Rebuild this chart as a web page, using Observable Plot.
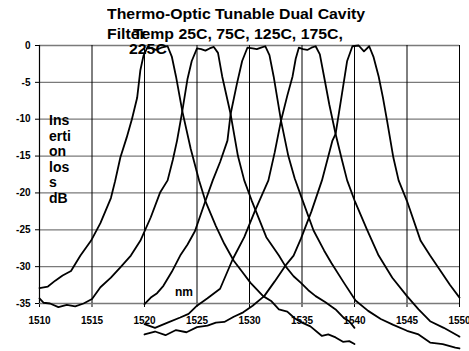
<!DOCTYPE html>
<html>
<head>
<meta charset="utf-8">
<script src="https://cdn.jsdelivr.net/npm/d3@7"></script>
<script src="https://cdn.jsdelivr.net/npm/@observablehq/plot@0.6"></script>
<style>
  html, body { margin: 0; padding: 0; background: #fff; }
  #wrap { position: relative; width: 469px; height: 351px; font-family: "Liberation Sans", Arial, sans-serif; font-weight: bold; color: #000; }
  .t { position: absolute; white-space: nowrap; font-size: 14px; line-height: 14px; transform-origin: 0 0; transform: scaleX(1.13); }
  #ylab { position: absolute; left: 49px; top: 113.1px; font-size: 14px; line-height: 15.5px; width: 24px; }
  #nm { position: absolute; left: 175px; top: 285.5px; font-size: 12px; line-height: 12px; }
</style>
</head>
<body>
<div id="wrap">
  <div id="chart"></div>
  <div class="t" style="left:107px; top:6.7px;">Thermo-Optic Tunable Dual Cavity</div>
  <div class="t" style="left:107px; top:27.4px;">Filter</div>
  <div class="t" style="left:133px; top:27.4px;">Temp 25C, 75C, 125C, 175C,</div>
  <div class="t" style="left:129px; top:42.4px;">225C</div>
  <div id="ylab">Ins<br>erti<br>on<br>los<br>s<br>dB</div>
  <div id="nm">nm</div>
</div>
<script>
// Series names
const temps = ["25C", "75C", "125C", "175C", "225C"];

// 25C curve
const wl25 = [1510, 1510.8, 1511.5, 1512.2, 1513, 1513.9, 1514.9, 1515.8, 1516.8, 1517.2, 1517.7, 1518.3, 1518.8, 1519.3, 1519.6, 1519.9, 1520.3, 1520.7, 1521.1, 1521.6, 1522.2, 1522.6, 1523.0, 1523.6, 1524.4, 1525.2, 1525.8, 1526.8, 1527.6, 1528.5, 1529.3, 1530.1, 1531.3, 1532.1, 1532.8, 1533.6, 1534.3, 1535, 1535.8, 1536.9, 1537.5, 1538.2, 1538.9, 1539.5, 1540];
const db25 = [-32.9, -32.7, -31.9, -31.2, -30.6, -28.5, -26.5, -24.1, -20.7, -18.4, -15.2, -12.5, -10.0, -7.1, -3.4, -1.4, -0.2, -0.4, -0.6, -0.3, -0.1, -1.5, -4.2, -8.9, -14.0, -18.3, -21.1, -24.5, -26.9, -29.2, -30.7, -32.2, -34.0, -34.7, -35.8, -36.1, -37.0, -37.6, -38.1, -39.4, -39.2, -39.6, -40.2, -40.1, -40.5];

// 75C curve
const wl75 = [1510, 1510.4, 1511, 1511.8, 1512.6, 1513.4, 1514.2, 1515, 1515.8, 1516.8, 1517.7, 1518.7, 1519.6, 1520.6, 1521.5, 1522.2, 1522.7, 1523.1, 1523.6, 1524.1, 1524.5, 1525.0, 1525.4, 1525.8, 1526.2, 1526.6, 1527.0, 1527.4, 1528.2, 1528.9, 1529.5, 1530.2, 1531.6, 1532.8, 1533.4, 1534.2, 1534.9, 1535.6, 1536.3, 1537.2, 1538.2, 1539, 1539.5, 1540];
const db75 = [-34.3, -34.9, -35.0, -35.5, -35.2, -35.4, -35.0, -34.4, -32.8, -31.5, -30.1, -28.5, -26.5, -23.3, -19.9, -18.3, -15.5, -12.9, -8.9, -4.5, -2.1, -0.4, -0.5, -0.7, -0.4, -0.2, -1.0, -4.2, -9.3, -15.0, -18.3, -21.0, -26.0, -28.5, -29.9, -31.3, -32.2, -33.2, -34.0, -34.8, -35.8, -37.0, -37.4, -38.3];

// 125C curve
const wl125 = [1520, 1520.6, 1521.2, 1521.8, 1522.6, 1523.4, 1524.1, 1524.8, 1525.8, 1526.5, 1527.2, 1527.9, 1528.2, 1528.8, 1529.3, 1529.8, 1530.3, 1530.7, 1531.1, 1531.5, 1531.9, 1532.3, 1533.0, 1533.7, 1534.3, 1534.9, 1536.1, 1537.1, 1537.8, 1539, 1540.1, 1541.3, 1542.5, 1543.7, 1545, 1546.1, 1547.2, 1548.4, 1549.6, 1550];
const db125 = [-35.1, -34.2, -33.6, -32.6, -30.7, -28.5, -27.0, -25.2, -21.1, -18.3, -15.8, -12.9, -9.3, -5.2, -2.1, -0.3, -0.4, -0.5, -0.3, -0.1, -1.3, -4.2, -10.2, -15.0, -18.0, -20.4, -25.1, -27.8, -29.5, -32.2, -34.6, -36.0, -37.1, -37.9, -38.7, -39.2, -40.3, -40.5, -41.0, -41.1];

// 175C curve
const wl175 = [1520, 1521, 1522.2, 1523.4, 1524.2, 1525, 1526, 1527.2, 1528.4, 1529.5, 1530.5, 1531.8, 1532.4, 1533.0, 1533.6, 1534.1, 1534.4, 1534.7, 1535.1, 1535.5, 1535.9, 1536.3, 1536.7, 1537.1, 1537.6, 1538.2, 1538.8, 1539.3, 1540, 1541.2, 1542.3, 1543.6, 1545, 1546.1, 1547.2, 1548.5, 1549.9, 1550];
const db175 = [-37.8, -38.3, -37.6, -36.9, -36.4, -35.3, -34.3, -33.0, -29.0, -26.0, -22.5, -18.3, -14.5, -10.2, -6.8, -4.2, -1.8, -0.3, -0.5, -0.6, -0.3, -0.1, -1.2, -4.2, -8.0, -12.0, -15.5, -18.3, -21.0, -25.0, -28.5, -31.5, -34.0, -35.8, -37.4, -38.3, -39.4, -39.5];

// 225C curve
const wl225 = [1520, 1521, 1522, 1523, 1524, 1525, 1526, 1526.8, 1527.6, 1528.5, 1529.4, 1530.3, 1531.4, 1532.4, 1533.4, 1534.2, 1534.9, 1535.9, 1536.9, 1537.9, 1538.2, 1538.7, 1539.3, 1539.8, 1540.4, 1540.9, 1541.4, 1541.8, 1542.3, 1542.7, 1543.1, 1543.7, 1544.2, 1545, 1546.3, 1547.2, 1548.2, 1549.1, 1550];
const db225 = [-39.2, -38.8, -39.3, -38.6, -38.9, -38.2, -38.0, -37.6, -37.5, -36.8, -36.2, -35.3, -34.0, -32.0, -29.9, -28.5, -26.2, -22.5, -18.3, -12.9, -12.0, -7.5, -2.1, -0.1, 0, -0.8, -0.1, -1.5, -4.2, -7.0, -10.2, -15.2, -18.3, -21.1, -26.5, -28.5, -30.6, -32.5, -34.2];

// Axis ticks
const xTicks = [1510, 1515, 1520, 1525, 1530, 1535, 1540, 1545, 1550];
const yTicks = [0, -5, -10, -15, -20, -25, -30, -35];

const series = [[wl25, db25], [wl75, db75], [wl125, db125], [wl175, db175], [wl225, db225]];
const rows = [];
series.forEach(([wl, db], i) => wl.forEach((w, j) => rows.push({ temp: temps[i], wl: w, db: db[j] })));

const fmt = d => String(d);

const chart = Plot.plot({
  width: 469,
  height: 351,
  marginLeft: 39,
  marginRight: 10,
  marginTop: 45,
  marginBottom: 48,
  style: { fontFamily: "'Liberation Sans', Arial, sans-serif", fontSize: "10px", fontWeight: "bold", color: "#000", background: "#fff", overflow: "visible" },
  x: { domain: [1510, 1550], ticks: xTicks, tickSize: 4, tickPadding: 9, tickFormat: fmt, label: null },
  y: { domain: [-35, 0], ticks: yTicks, tickSize: 4, tickPadding: 5, tickFormat: fmt, label: null },
  marks: [
    Plot.ruleY(yTicks, { stroke: "#7a7a7a", strokeWidth: 1.3 }),
    Plot.ruleX(xTicks.slice(1), { stroke: "#000", strokeWidth: 1 }),
    Plot.ruleX([xTicks[0]], { stroke: "#000", strokeWidth: 1.2 }),
    Plot.line(rows, { x: "wl", y: "db", z: "temp", stroke: "#000", strokeWidth: 1.8, curve: "linear" })
  ]
});
document.getElementById("chart").appendChild(chart);
</script>
</body>
</html>
